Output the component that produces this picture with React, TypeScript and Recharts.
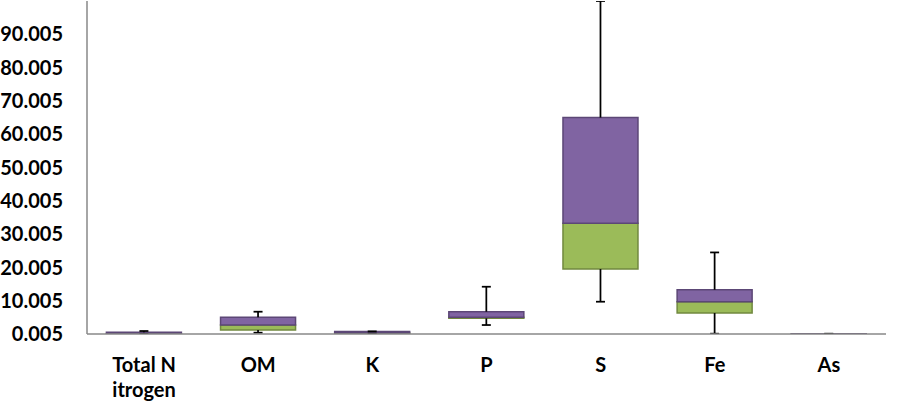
import React from "react";
import { ComposedChart, Bar, XAxis, YAxis } from "recharts";

const categories = ["Total Nitrogen", "OM", "K", "P", "S", "Fe", "As"];
const minVals = [0.02, 0.4, 0.1, 2.7, 9.7, 0.1, 0.005];
const q1Vals = [0.05, 1.2, 0.2, 4.7, 19.5, 6.3, 0.01];
const medianVals = [0.1, 2.7, 0.3, 5.0, 33.3, 9.7, 0.02];
const q3Vals = [0.55, 5.0, 0.75, 6.7, 65.0, 13.3, 0.05];
const maxVals = [0.9, 6.7, 0.8, 14.2, 100.005, 24.5, 0.1];
const yTicks = [0.005, 10.005, 20.005, 30.005, 40.005, 50.005, 60.005, 70.005, 80.005, 90.005];
const tickLines: Record<string, string[]> = {
  "Total Nitrogen": ["Total N", "itrogen"],
};

const data = categories.map((name, i) => ({
  name,
  min: minVals[i],
  q1: q1Vals[i],
  med: medianVals[i],
  q3: q3Vals[i],
  max: maxVals[i],
  base: q1Vals[i],
  lowerBox: medianVals[i] - q1Vals[i],
  upperBox: q3Vals[i] - medianVals[i],
}));

const FONT = "Lato, 'Open Sans', sans-serif";

const XTick = (props: any) => {
  const { x, y, payload } = props;
  const lines = tickLines[payload.value] ?? [payload.value];
  return (
    <text x={x} y={y} textAnchor="middle" fontFamily={FONT} fontWeight={700} fontSize={20} fill="#000">
      {lines.map((l: string, i: number) => (
        <tspan key={i} x={x} dy={i === 0 ? 38 : 25}>
          {l}
        </tspan>
      ))}
    </text>
  );
};

const Whisker = (props: any) => {
  const { x, y, width, height, payload } = props;
  if (x == null || y == null || !payload) return null;
  const cx = x + width / 2;
  const range = payload.max - payload.min;
  const top = y;
  const bottom = y + height;
  const q3px = range > 0 ? y + ((payload.max - payload.q3) / range) * height : y;
  const q1px = range > 0 ? y + ((payload.max - payload.q1) / range) * height : bottom;
  const cap = 4.5;
  const s = { stroke: "#000", strokeWidth: 1.75 };
  return (
    <g>
      <line x1={cx} x2={cx} y1={top} y2={q3px} {...s} />
      <line x1={cx - cap} x2={cx + cap} y1={top} y2={top} {...s} />
      <line x1={cx} x2={cx} y1={q1px} y2={bottom} {...s} />
      <line x1={cx - cap} x2={cx + cap} y1={bottom} y2={bottom} {...s} />
    </g>
  );
};

export default function App() {
  return (
    <div style={{ position: "absolute", left: 0, top: 0, background: "#fff" }}>
      <ComposedChart
        width={898}
        height={407}
        data={data}
        margin={{ top: 1, right: 12, bottom: 0, left: 0 }}
        barCategoryGap="17%"
      >
        <XAxis
          dataKey="name"
          axisLine={{ stroke: "#898989", strokeWidth: 1.5 }}
          tickLine={false}
          tickSize={0}
          tickMargin={0}
          height={73}
          interval={0}
          tick={<XTick />}
        />
        <XAxis xAxisId="w" dataKey="name" hide />
        <YAxis
          type="number"
          domain={[0.005, 100.005]}
          ticks={yTicks}
          allowDataOverflow
          width={87}
          axisLine={{ stroke: "#898989", strokeWidth: 1.5 }}
          tickLine={false}
          tickSize={0}
          tickMargin={24}
          tickFormatter={(v: number) => v.toFixed(3)}
          tick={{ fontFamily: FONT, fontWeight: 700, fontSize: 20, fill: "#000" }}
        />
        <Bar dataKey="base" stackId="box" fill="transparent" isAnimationActive={false} />
        <Bar
          dataKey="lowerBox"
          stackId="box"
          fill="#9BBB59"
          stroke="#71893F"
          strokeWidth={1.5}
          isAnimationActive={false}
        />
        <Bar
          dataKey="upperBox"
          stackId="box"
          fill="#8064A2"
          stroke="#5C4776"
          strokeWidth={1.5}
          isAnimationActive={false}
        />
        <Bar
          xAxisId="w"
          dataKey={(d: any) => [d.min, d.max]}
          fill="none"
          shape={<Whisker />}
          isAnimationActive={false}
        />
      </ComposedChart>
    </div>
  );
}
